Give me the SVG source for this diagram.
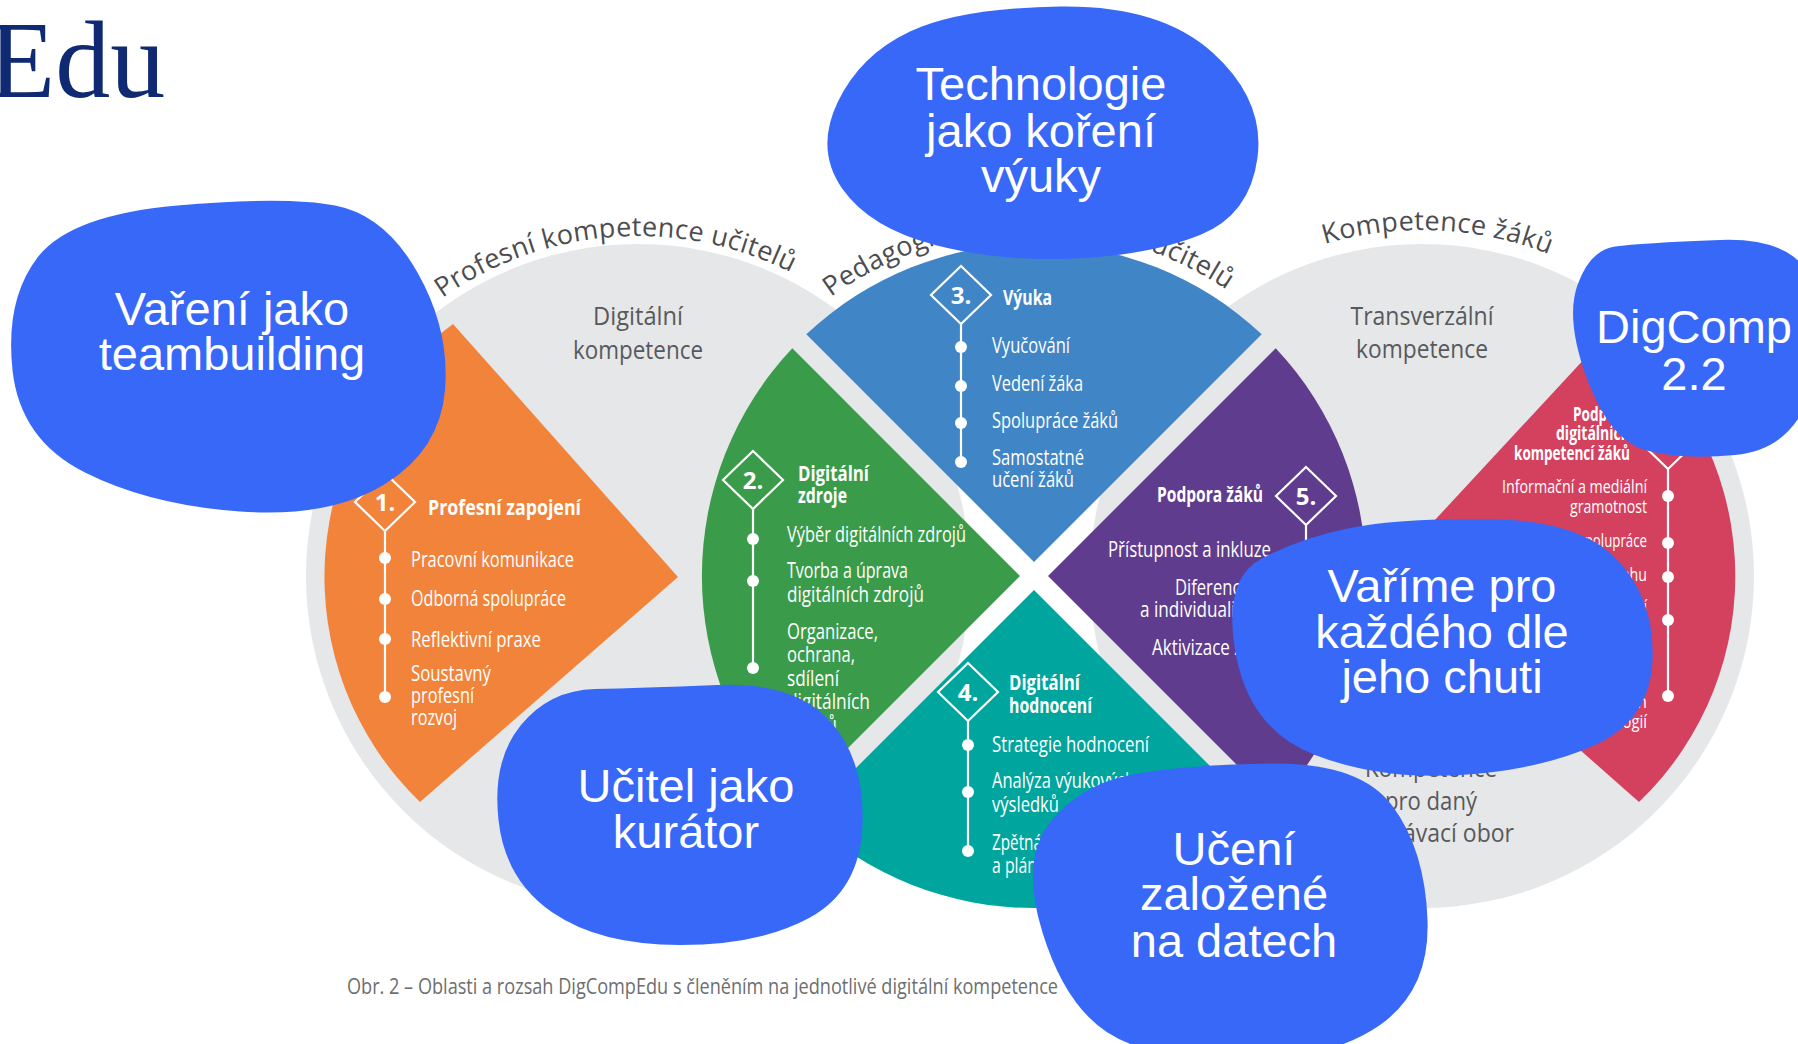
<svg xmlns="http://www.w3.org/2000/svg" xmlns:xlink="http://www.w3.org/1999/xlink" width="1798" height="1044" viewBox="0 0 1798 1044">
<style>
.gray{fill:#e6e7e8}
.t{font-family:"Open Sans","Noto Sans","Liberation Sans",sans-serif}
.it{font-size:21px;fill:#fff}
.itr{font-size:19px;fill:#fff}
.hd{font-size:22px;font-weight:700;fill:#fff}
.hdr{font-size:19px;font-weight:700;fill:#fff}
.num{font-size:24px;font-weight:700;fill:#fff;text-anchor:middle}
.dia{fill:none;stroke:#fff;stroke-width:2.2}
.ln{stroke:#fff;stroke-width:2.2}
.dot{fill:#fff}
.lab{font-size:25px;fill:#58595b;text-anchor:middle}
.arc{font-size:27px;fill:#4d4d4f;letter-spacing:0.3px}
.cap{font-size:21px;fill:#6d6e70}
.bub{fill:#3768f8}
.bt{font-family:"Liberation Sans",Arial,sans-serif;font-size:47px;fill:#fff;text-anchor:middle}
</style>
<defs>
<path id="dm" d="M0,-29 L30,0 L0,29 L-30,0 Z"/>
<path id="arcL" d="M343.6,406 A340,340 0 0 1 932.4,406"/>
<path id="arcM" d="M735.2,403.5 A345,345 0 0 1 1332.8,403.5"/>
<path id="arcR" d="M1122.4,403 A346,346 0 0 1 1721.6,403"/>
</defs>
<rect width="1798" height="1044" fill="#fff"/>

<g id="circles">
<circle class="gray" cx="638" cy="576" r="332"/>
<circle class="gray" cx="1422" cy="576" r="332"/>
</g>

<g id="area1" class="t">
<path d="M678,577 L453,324 A313,313 0 0 0 420,802 Z" fill="#f2833b"/>
<use href="#dm" x="385" y="502" class="dia"/>
<text x="385" y="511" class="num">1.</text>
<line x1="385" y1="531" x2="385" y2="697" class="ln"/>
<circle cx="385" cy="558" r="6" class="dot"/>
<circle cx="385" cy="599" r="6" class="dot"/>
<circle cx="385" cy="639" r="6" class="dot"/>
<circle cx="385" cy="697" r="6" class="dot"/>
<text x="428" y="515" class="hd" textLength="153" lengthAdjust="spacingAndGlyphs">Profesní zapojení</text>
<text x="411" y="567" class="it" textLength="163" lengthAdjust="spacingAndGlyphs">Pracovní komunikace</text>
<text x="411" y="606" class="it" textLength="155" lengthAdjust="spacingAndGlyphs">Odborná spolupráce</text>
<text x="411" y="647" class="it" textLength="130" lengthAdjust="spacingAndGlyphs">Reflektivní praxe</text>
<text x="411" y="681" class="it" textLength="80" lengthAdjust="spacingAndGlyphs">Soustavný</text>
<text x="411" y="703" class="it" textLength="63" lengthAdjust="spacingAndGlyphs">profesní</text>
<text x="411" y="725" class="it" textLength="46" lengthAdjust="spacingAndGlyphs">rozvoj</text>
</g>

<g id="area6" class="t">
<path d="M1383,576 L1613,328 A313,313 0 0 1 1639,802 Z" fill="#d3415f"/>
<use href="#dm" x="1668" y="440" class="dia"/>
<text x="1668" y="449" class="num">6.</text>
<line x1="1668" y1="469" x2="1668" y2="696" class="ln"/>
<circle cx="1668" cy="496" r="6" class="dot"/>
<circle cx="1668" cy="543" r="6" class="dot"/>
<circle cx="1668" cy="577" r="6" class="dot"/>
<circle cx="1668" cy="620" r="6" class="dot"/>
<circle cx="1668" cy="696" r="6" class="dot"/>
<text x="1573" y="421" class="hdr" textLength="57" lengthAdjust="spacingAndGlyphs">Podpora</text>
<text x="1556" y="440" class="hdr" textLength="74" lengthAdjust="spacingAndGlyphs">digitálních</text>
<text x="1514" y="460" class="hdr" textLength="116" lengthAdjust="spacingAndGlyphs">kompetencí žáků</text>
<text x="1502" y="493" class="itr" textLength="145" lengthAdjust="spacingAndGlyphs">Informační a mediální</text>
<text x="1570" y="513" class="itr" textLength="77" lengthAdjust="spacingAndGlyphs">gramotnost</text>
<text x="1488" y="547" class="itr" textLength="159" lengthAdjust="spacingAndGlyphs">Komunikace a spolupráce</text>
<text x="1475" y="581" class="itr" textLength="172" lengthAdjust="spacingAndGlyphs">Tvorba digitálního obsahu</text>
<text x="1516" y="613" class="itr" textLength="131" lengthAdjust="spacingAndGlyphs">Odpovědné používání</text>
<text x="1543" y="688" class="itr" textLength="104" lengthAdjust="spacingAndGlyphs">Řešení problémů</text>
<text x="1495" y="708" class="itr" textLength="152" lengthAdjust="spacingAndGlyphs">s využitím digitálních</text>
<text x="1571" y="728" class="itr" textLength="76" lengthAdjust="spacingAndGlyphs">technologií</text>
</g>

<g id="area3" class="t">
<path d="M1034,562 L806.3,334.3 A332,332 0 0 1 1261.7,334.3 Z" fill="#4086c6"/>
<use href="#dm" x="961" y="295" class="dia"/>
<text x="961" y="304" class="num">3.</text>
<line x1="961" y1="324" x2="961" y2="462" class="ln"/>
<circle cx="961" cy="347" r="6" class="dot"/>
<circle cx="961" cy="386" r="6" class="dot"/>
<circle cx="961" cy="423" r="6" class="dot"/>
<circle cx="961" cy="462" r="6" class="dot"/>
<text x="1003" y="305" class="hd" textLength="49" lengthAdjust="spacingAndGlyphs">Výuka</text>
<text x="992" y="353" class="it" textLength="78" lengthAdjust="spacingAndGlyphs">Vyučování</text>
<text x="992" y="391" class="it" textLength="91" lengthAdjust="spacingAndGlyphs">Vedení žáka</text>
<text x="992" y="428" class="it" textLength="126" lengthAdjust="spacingAndGlyphs">Spolupráce žáků</text>
<text x="992" y="465" class="it" textLength="92" lengthAdjust="spacingAndGlyphs">Samostatné</text>
<text x="992" y="487" class="it" textLength="82" lengthAdjust="spacingAndGlyphs">učení žáků</text>
</g>

<g id="area2" class="t">
<path d="M1020,576 L792.3,348.3 A332,332 0 0 0 792.3,803.7 Z" fill="#3a9c4a"/>
<use href="#dm" x="753" y="480" class="dia"/>
<text x="753" y="489" class="num">2.</text>
<line x1="753" y1="509" x2="753" y2="668" class="ln"/>
<circle cx="753" cy="539" r="6" class="dot"/>
<circle cx="753" cy="581" r="6" class="dot"/>
<circle cx="753" cy="668" r="6" class="dot"/>
<text x="798" y="481" class="hd" textLength="71" lengthAdjust="spacingAndGlyphs">Digitální</text>
<text x="798" y="503" class="hd" textLength="49" lengthAdjust="spacingAndGlyphs">zdroje</text>
<text x="787" y="542" class="it" textLength="179" lengthAdjust="spacingAndGlyphs">Výběr digitálních zdrojů</text>
<text x="787" y="578" class="it" textLength="121" lengthAdjust="spacingAndGlyphs">Tvorba a úprava</text>
<text x="787" y="602" class="it" textLength="137" lengthAdjust="spacingAndGlyphs">digitálních zdrojů</text>
<text x="787" y="639" class="it" textLength="91" lengthAdjust="spacingAndGlyphs">Organizace,</text>
<text x="787" y="662" class="it" textLength="68" lengthAdjust="spacingAndGlyphs">ochrana,</text>
<text x="787" y="686" class="it" textLength="52" lengthAdjust="spacingAndGlyphs">sdílení</text>
<text x="787" y="709" class="it" textLength="83" lengthAdjust="spacingAndGlyphs">digitálních</text>
<text x="787" y="732" class="it" textLength="50" lengthAdjust="spacingAndGlyphs">zdrojů</text>
</g>

<g id="area5" class="t">
<path d="M1048,576 L1275.7,348.3 A332,332 0 0 1 1275.7,803.7 Z" fill="#5f3c8e"/>
<use href="#dm" x="1306" y="496" class="dia"/>
<text x="1306" y="505" class="num">5.</text>
<line x1="1306" y1="525" x2="1306" y2="650" class="ln"/>
<circle cx="1306" cy="552" r="6" class="dot"/>
<circle cx="1306" cy="604" r="6" class="dot"/>
<circle cx="1306" cy="650" r="6" class="dot"/>
<text x="1157" y="502" class="hd" textLength="106" lengthAdjust="spacingAndGlyphs">Podpora žáků</text>
<text x="1108" y="557" class="it" textLength="163" lengthAdjust="spacingAndGlyphs">Přístupnost a inkluze</text>
<text x="1175" y="595" class="it" textLength="96" lengthAdjust="spacingAndGlyphs">Diferenciace</text>
<text x="1140" y="617" class="it" textLength="131" lengthAdjust="spacingAndGlyphs">a individualizace</text>
<text x="1152" y="655" class="it" textLength="119" lengthAdjust="spacingAndGlyphs">Aktivizace žáků</text>
</g>

<g id="area4" class="t">
<path d="M1034,590 L806.3,817.7 A332,332 0 0 0 1261.7,817.7 Z" fill="#00a59e"/>
<use href="#dm" x="968" y="692" class="dia"/>
<text x="968" y="701" class="num">4.</text>
<line x1="968" y1="721" x2="968" y2="851" class="ln"/>
<circle cx="968" cy="745" r="6" class="dot"/>
<circle cx="968" cy="792" r="6" class="dot"/>
<circle cx="968" cy="851" r="6" class="dot"/>
<text x="1009" y="690" class="hd" textLength="71" lengthAdjust="spacingAndGlyphs">Digitální</text>
<text x="1009" y="713" class="hd" textLength="83" lengthAdjust="spacingAndGlyphs">hodnocení</text>
<text x="992" y="752" class="it" textLength="157" lengthAdjust="spacingAndGlyphs">Strategie hodnocení</text>
<text x="992" y="788" class="it" textLength="143" lengthAdjust="spacingAndGlyphs">Analýza výukových</text>
<text x="992" y="812" class="it" textLength="67" lengthAdjust="spacingAndGlyphs">výsledků</text>
<text x="992" y="850" class="it" textLength="95" lengthAdjust="spacingAndGlyphs">Zpětná vazba</text>
<text x="992" y="873" class="it" textLength="85" lengthAdjust="spacingAndGlyphs">a plánování</text>
</g>

<g id="labels" class="t">
<text x="638" y="325" class="lab" textLength="90" lengthAdjust="spacingAndGlyphs">Digitální</text>
<text x="638" y="359" class="lab" textLength="130" lengthAdjust="spacingAndGlyphs">kompetence</text>
<text x="1422" y="325" class="lab" textLength="143" lengthAdjust="spacingAndGlyphs">Transverzální</text>
<text x="1422" y="358" class="lab" textLength="132" lengthAdjust="spacingAndGlyphs">kompetence</text>
<text x="1431" y="777" class="lab" textLength="132" lengthAdjust="spacingAndGlyphs">Kompetence</text>
<text x="1431" y="810" class="lab" textLength="92" lengthAdjust="spacingAndGlyphs">pro daný</text>
<text x="1431" y="842" class="lab" textLength="166" lengthAdjust="spacingAndGlyphs">vzdělávací obor</text>
<text class="arc"><textPath href="#arcL" startOffset="331" text-anchor="middle">Profesní kompetence učitelů</textPath></text>
<text class="arc"><textPath href="#arcM" startOffset="355" text-anchor="middle">Pedagogické kompetence učitelů</textPath></text>
<text class="arc"><textPath href="#arcR" startOffset="378" text-anchor="middle">Kompetence žáků</textPath></text>
<text x="347" y="994" class="cap" textLength="711" lengthAdjust="spacingAndGlyphs">Obr. 2 – Oblasti a rozsah DigCompEdu s členěním na jednotlivé digitální kompetence</text>
</g>

<g id="title">
<text x="-12" y="97" font-family="'Liberation Serif','Times New Roman',serif" font-size="110" fill="#0f2a73">Edu</text>
</g>

<g id="bubble1">
<path class="bub" d="M177.5,205.5 Q285,196 335,205.5 Q385,215 417.5,272.5 Q450,330 445,390 Q440,450 385,484 Q330,518 240,511.5 Q150,505 85,472.5 Q20,440 12.5,370 Q5,300 37.5,257.5 Q70,215 177.5,205.5 Z"/>
<text class="bt" x="232" y="325">Vaření jako</text>
<text class="bt" x="232" y="370">teambuilding</text>
</g>
<g id="bubble2">
<path class="bub" d="M910,31.5 Q960,8 1060,6.5 Q1160,5 1212.5,52.5 Q1265,100 1257.5,157.5 Q1250,215 1200,235 Q1150,255 1075,258.5 Q1000,262 935,245 Q870,228 842.5,189 Q815,150 837.5,102.5 Q860,55 910,31.5 Z"/>
<text class="bt" x="1041" y="100">Technologie</text>
<text class="bt" x="1041" y="147">jako koření</text>
<text class="bt" x="1041" y="192">výuky</text>
</g>
<g id="bubble3">
<path class="bub" d="M1615,246.5 Q1640,243 1720,240 Q1800,237 1815,288.5 Q1830,340 1810,395 Q1790,450 1735,455 Q1680,460 1645,450 Q1610,440 1587.5,380 Q1565,320 1577.5,285 Q1590,250 1615,246.5 Z"/>
<text class="bt" x="1694" y="343">DigComp</text>
<text class="bt" x="1694" y="390">2.2</text>
</g>
<g id="bubble4">
<path class="bub" d="M595,689 Q640,688 717.5,685 Q795,682 830,721 Q865,760 862.5,825 Q860,890 810,917.5 Q760,945 680,945 Q600,945 552.5,912.5 Q505,880 498.5,820 Q492,760 521,725 Q550,690 595,689 Z"/>
<text class="bt" x="686" y="802">Učitel jako</text>
<text class="bt" x="686" y="848">kurátor</text>
</g>
<g id="bubble5">
<path class="bub" d="M1350,528 Q1400,518 1490,519 Q1580,520 1617.5,560 Q1655,600 1652.5,660 Q1650,720 1595,745 Q1540,770 1460,775 Q1380,780 1315,755 Q1250,730 1236,655 Q1222,580 1261,559 Q1300,538 1350,528 Z"/>
<text class="bt" x="1442" y="602">Vaříme pro</text>
<text class="bt" x="1442" y="648">každého dle</text>
<text class="bt" x="1442" y="693">jeho chuti</text>
</g>
<g id="bubble6">
<path class="bub" d="M1130,775 Q1180,765 1270,763.5 Q1360,762 1392.5,806 Q1425,850 1427.5,920 Q1430,990 1380,1025 Q1330,1060 1240,1060 Q1150,1060 1107.5,1032.5 Q1065,1005 1042.5,932.5 Q1020,860 1050,822.5 Q1080,785 1130,775 Z"/>
<text class="bt" x="1234" y="865">Učení</text>
<text class="bt" x="1234" y="910">založené</text>
<text class="bt" x="1234" y="957">na datech</text>
</g>
<g id="connectors"/>
</svg>
